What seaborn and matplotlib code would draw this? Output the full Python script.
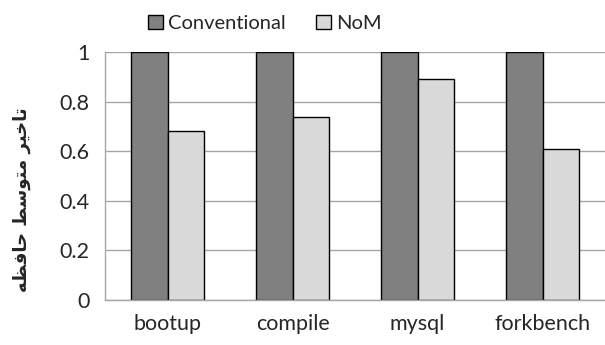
import pandas as pd
import numpy as np
import matplotlib
matplotlib.use("Agg")
import matplotlib.pyplot as plt
import seaborn as sns
from matplotlib.patches import Patch
from matplotlib.ticker import FixedLocator

# values
benchmarks = ["bootup", "compile", "mysql", "forkbench"]
conventional = [1.0, 1.0, 1.0, 1.0]
nom = [0.68, 0.74, 0.89, 0.61]
series_names = ["Conventional", "NoM"]
colors = ["#808080", "#d9d9d9"]
# Persian label "تاخیر متوسط حافظه", written in shaped (presentation) forms
# because matplotlib does not join Arabic letters by itself
ylabel_text = "\ufeea\ufec8\ufed3\ufe8e\ufea3 \ufec2\ufeb3\ufeee\ufe98\ufee3 \ufeae\ufbff\ufea7\ufe8e\ufe97"

data = pd.DataFrame({
    "benchmark": benchmarks * 2,
    "value": conventional + nom,
    "series": [series_names[0]] * 4 + [series_names[1]] * 4,
})

sns.set_style("white")
plt.rcParams["font.family"] = ["Lato", "DejaVu Sans"]

fig = plt.figure(figsize=(6.05, 3.45), dpi=100)
ax = fig.add_axes([0.1736, 0.1304, 0.8264, 0.7188])

sns.barplot(data=data, x="benchmark", y="value", hue="series",
            palette=colors, width=0.58, edgecolor="black", linewidth=1,
            saturation=1, ax=ax, legend=False)

ax.set_ylim(0, 1)
ax.set_xlim(-0.5, 3.5)
ax.set_yticks(np.arange(0, 1.01, 0.2))
ax.set_yticklabels(["0", "0.2", "0.4", "0.6", "0.8", "1"], fontsize=15.5)
ax.grid(axis="y", color="#a6a6a6", linewidth=1)
ax.set_axisbelow(True)
ax.tick_params(axis="y", length=5, color="#a6a6a6", width=1, pad=6)
ax.tick_params(axis="x", which="major", length=0, labelsize=15.5, pad=10)
ax.xaxis.set_minor_locator(FixedLocator([-0.5, 0.5, 1.5, 2.5, 3.5]))
ax.tick_params(axis="x", which="minor", length=7, color="#a6a6a6", width=1)
for side in ["top", "right"]:
    ax.spines[side].set_visible(False)
for side in ["left", "bottom"]:
    ax.spines[side].set_color("#a6a6a6")
    ax.spines[side].set_linewidth(1)
ax.set_xlabel("")
ax.set_ylabel(ylabel_text, fontsize=13, fontweight="bold",
              family=["DejaVu Sans"])
ax.yaxis.set_label_coords(-0.148, 0.405)

handles = [Patch(facecolor=c, edgecolor="black", linewidth=1) for c in colors]
fig.legend(handles, series_names, loc="upper center",
           bbox_to_anchor=(0.438, 1.01), ncol=2, frameon=False, fontsize=14.5,
           handlelength=0.75, handleheight=0.75, handletextpad=0.25,
           columnspacing=1.5)

fig.savefig("out.png", dpi=100)
